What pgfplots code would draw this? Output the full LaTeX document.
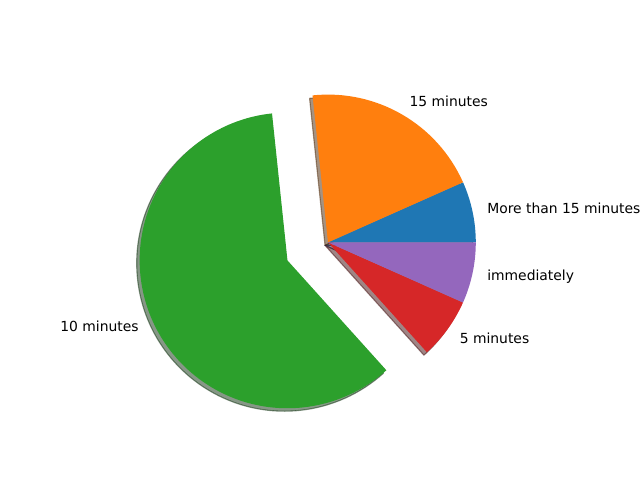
\documentclass[border=0pt]{standalone}
\usepackage{pgfplots}
\usepackage{pgfplotstable}
\pgfplotsset{compat=1.18}
\usepackage{fontspec}
\setmainfont{DejaVu Sans}

\definecolor{c1}{HTML}{1F77B4}
\definecolor{c2}{HTML}{FF7F0E}
\definecolor{c3}{HTML}{2CA02C}
\definecolor{c4}{HTML}{D62728}
\definecolor{c5}{HTML}{9467BD}

% slices, counter-clockwise from 0 degrees
\pgfplotstableread[col sep=comma]{
label,value,explode,color
More than 15 minutes,1,0,c1
15 minutes,3,0,c2
10 minutes,9,0.3,c3
5 minutes,1,0,c4
immediately,1,0,c5
}\piedata

\def\R{106.4pt}% one axis unit = pie radius

\newcommand\getslice[1]{%
  \pgfplotstablegetelem{#1}{value}\of\piedata \let\val\pgfplotsretval
  \pgfplotstablegetelem{#1}{explode}\of\piedata \let\expl\pgfplotsretval
  \pgfplotstablegetelem{#1}{color}\of\piedata \let\col\pgfplotsretval
  \pgfplotstablegetelem{#1}{label}\of\piedata \let\lab\pgfplotsretval
  \pgfmathsetmacro\angA{360*\acc/\tot}%
  \pgfmathsetmacro\angB{360*(\acc+\val)/\tot}%
  \pgfmathsetmacro\angM{(\angA+\angB)/2}%
  \pgfmathsetmacro\cx{\expl*cos(\angM)}%
  \pgfmathsetmacro\cy{\expl*sin(\angM)}%
  \pgfmathsetmacro\acc{\acc+\val}%
}

\begin{document}
\begin{tikzpicture}
\begin{axis}[
    x=\R, y=\R,
    xmin=-2.219, xmax=2.111,
    ymin=-1.608, ymax=1.640,
    hide axis, clip=false]
\pgfplotstablegetrowsof{\piedata}
\pgfmathtruncatemacro\N{\pgfplotsretval-1}
\def\tot{0}
\pgfplotsforeachungrouped \i in {0,...,\N}{%
  \pgfplotstablegetelem{\i}{value}\of\piedata
  \pgfmathsetmacro\tot{\tot+\pgfplotsretval}%
}
% shadows
\def\acc{0}
\pgfplotsforeachungrouped \i in {0,...,\N}{%
  \getslice{\i}%
  \pgfmathsetmacro\sx{\cx-0.02}%
  \pgfmathsetmacro\sy{\cy-0.02}%
  \edef\cmd{\noexpand\filldraw[fill=\col!30!black, draw=\col!30!black, fill opacity=0.5, draw opacity=0.5, line width=0.8pt, line join=round]
    (axis cs:\sx,\sy) -- ++(\angA:\R) arc[start angle=\angA, end angle=\angB, radius=\R] -- cycle;}%
  \cmd
}
% wedges
\def\acc{0}
\pgfplotsforeachungrouped \i in {0,...,\N}{%
  \getslice{\i}%
  \edef\cmd{\noexpand\fill[\col]
    (axis cs:\cx,\cy) -- ++(\angA:\R) arc[start angle=\angA, end angle=\angB, radius=\R] -- cycle;}%
  \cmd
}
% labels
\def\acc{0}
\pgfplotsforeachungrouped \i in {0,...,\N}{%
  \getslice{\i}%
  \pgfmathsetmacro\lx{\cx+1.1*cos(\angM)}%
  \pgfmathsetmacro\ly{\cy+1.1*sin(\angM)}%
  \pgfmathtruncatemacro\side{\lx>0}%
  \ifnum\side=1 \def\anc{west}\else\def\anc{east}\fi
  \edef\cmd{\noexpand\node[anchor=\anc, inner sep=0pt, font=\noexpand\fontsize{10}{12}\noexpand\selectfont]
    at (axis cs:\lx,\ly) {\lab};}%
  \cmd
}
\end{axis}
\pgfresetboundingbox
\path (current axis.south west) rectangle (current axis.north east);
\end{tikzpicture}
\end{document}
